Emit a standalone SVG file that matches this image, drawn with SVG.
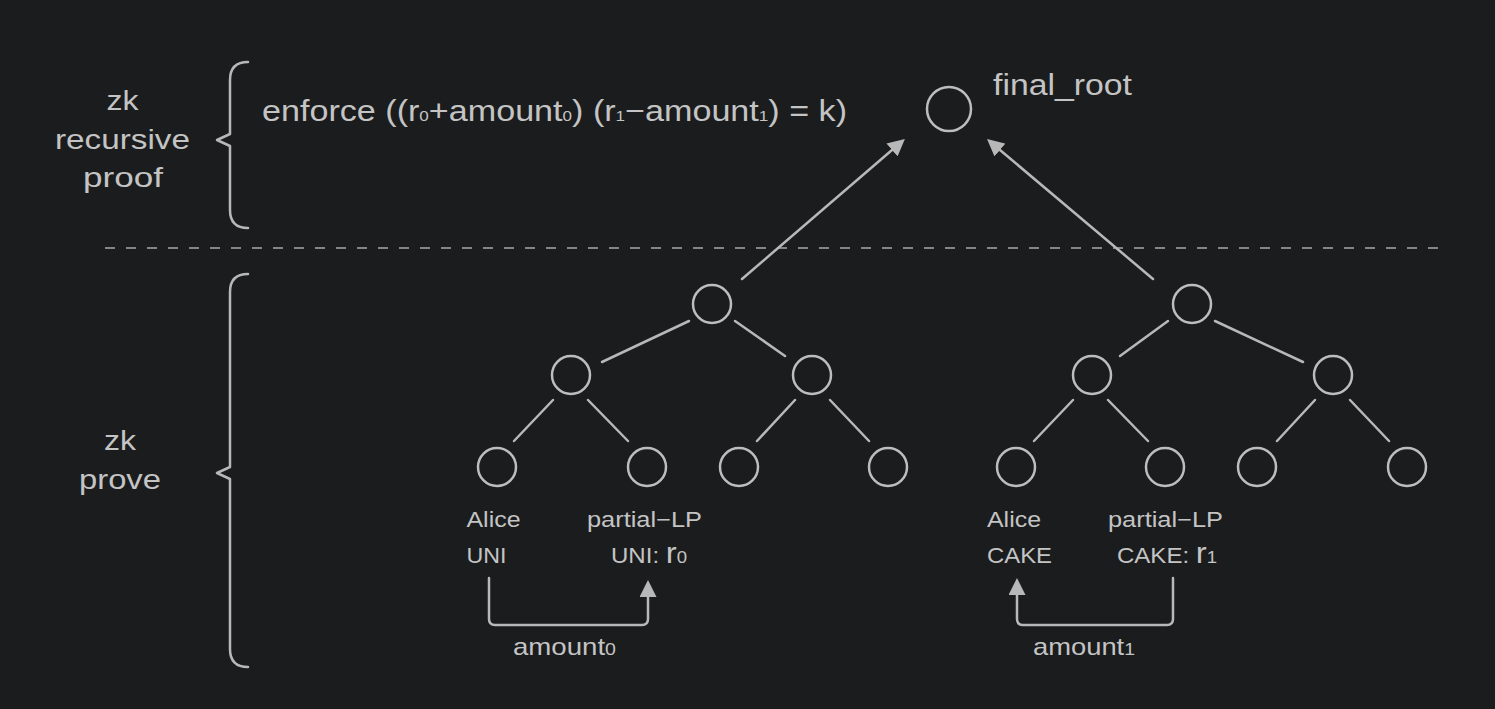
<svg xmlns="http://www.w3.org/2000/svg" width="1495" height="709" viewBox="0 0 1495 709">
<defs>
<style>
.bg{fill:#1b1c1e}
.ln{stroke:#b8b8b8;stroke-width:2.5;fill:none;stroke-linecap:round;stroke-linejoin:round}
.nd{stroke:#bdbdbd;stroke-width:2.5;fill:none}
.t{fill:#c4c4c4;font-family:"Liberation Sans","Noto Sans",Arial,sans-serif}
.big{font-size:28px}
.sm{font-size:22px}
.dash{stroke:#a8a8a8;stroke-width:1.5;stroke-dasharray:10 11;fill:none}
</style>
<marker id="ah" viewBox="0 0 17 17" refX="0" refY="8.5" markerWidth="17" markerHeight="17" markerUnits="userSpaceOnUse" orient="auto">
<path d="M0,0 L17,8.5 L0,17 z" fill="#b8b8b8"/>
</marker>
</defs>
<rect class="bg" x="0" y="0" width="1495" height="709"/>

<g id="section-labels">
<text class="t big" x="106.5" y="110" textLength="32" lengthAdjust="spacingAndGlyphs">zk</text>
<text class="t big" x="55" y="149" textLength="135" lengthAdjust="spacingAndGlyphs">recursive</text>
<text class="t big" x="83" y="187" textLength="80" lengthAdjust="spacingAndGlyphs">proof</text>
<text class="t big" x="104" y="450" textLength="32" lengthAdjust="spacingAndGlyphs">zk</text>
<text class="t big" x="79" y="489" textLength="82" lengthAdjust="spacingAndGlyphs">prove</text>
<path class="ln" d="M248,62 Q230,62 230,80 L230,134 L217,140 L230,146 L230,210 Q230,228 248,228"/>
<path class="ln" d="M248,274 Q230,274 230,292 L230,467 L217,473 L230,479 L230,649 Q230,667 248,667"/>
<line class="dash" x1="105" y1="248" x2="1442" y2="248"/>
</g>

<g id="formula">
<text class="t" font-size="30" x="262" y="121" textLength="585" lengthAdjust="spacingAndGlyphs">enforce ((r<tspan font-size="15">0</tspan>+amount<tspan font-size="15">0</tspan>) (r<tspan font-size="15">1</tspan>−amount<tspan font-size="15">1</tspan>) = k)</text>
</g>

<g id="final_root">
<circle class="nd" cx="949" cy="109" r="22"/>
<text class="t" font-size="30" x="993" y="95" textLength="139" lengthAdjust="spacingAndGlyphs">final_root</text>
</g>

<g id="L-root"><circle class="nd" cx="712" cy="304" r="19"/></g>
<g id="L-a"><circle class="nd" cx="571" cy="375" r="19"/></g>
<g id="L-b"><circle class="nd" cx="812" cy="375" r="19"/></g>
<g id="L-leaf1"><circle class="nd" cx="497" cy="467" r="19"/>
<text class="t sm" x="466.5" y="527" textLength="54" lengthAdjust="spacingAndGlyphs">Alice</text>
<text class="t sm" x="466.5" y="563" textLength="40" lengthAdjust="spacingAndGlyphs">UNI</text></g>
<g id="L-leaf2"><circle class="nd" cx="647" cy="467" r="19"/>
<text class="t sm" x="587" y="527" textLength="115" lengthAdjust="spacingAndGlyphs">partial−LP</text>
<text class="t sm" x="611" y="563" textLength="76" lengthAdjust="spacingAndGlyphs">UNI: <tspan font-size="30">r</tspan><tspan font-size="17">0</tspan></text></g>
<g id="L-leaf3"><circle class="nd" cx="739" cy="467" r="19"/></g>
<g id="L-leaf4"><circle class="nd" cx="888" cy="467" r="19"/></g>

<g id="R-root"><circle class="nd" cx="1192" cy="304" r="19"/></g>
<g id="R-a"><circle class="nd" cx="1092" cy="375" r="19"/></g>
<g id="R-b"><circle class="nd" cx="1333" cy="375" r="19"/></g>
<g id="R-leaf1"><circle class="nd" cx="1016" cy="467" r="19"/>
<text class="t sm" x="987" y="527" textLength="54" lengthAdjust="spacingAndGlyphs">Alice</text>
<text class="t sm" x="987" y="563" textLength="65" lengthAdjust="spacingAndGlyphs">CAKE</text></g>
<g id="R-leaf2"><circle class="nd" cx="1165" cy="467" r="19"/>
<text class="t sm" x="1108" y="527" textLength="115" lengthAdjust="spacingAndGlyphs">partial−LP</text>
<text class="t sm" x="1117" y="563" textLength="100" lengthAdjust="spacingAndGlyphs">CAKE: <tspan font-size="30">r</tspan><tspan font-size="17">1</tspan></text></g>
<g id="R-leaf3"><circle class="nd" cx="1257" cy="467" r="19"/></g>
<g id="R-leaf4"><circle class="nd" cx="1407" cy="467" r="19"/></g>

<g id="connectors">
<line class="ln" x1="742" y1="279" x2="892" y2="150" marker-end="url(#ah)"/>
<line class="ln" x1="1153" y1="279" x2="1000" y2="150" marker-end="url(#ah)"/>
<line class="ln" x1="689" y1="321" x2="602" y2="362"/>
<line class="ln" x1="735" y1="321" x2="785" y2="356"/>
<line class="ln" x1="553" y1="400" x2="514" y2="441"/>
<line class="ln" x1="588" y1="400" x2="628" y2="441"/>
<line class="ln" x1="795" y1="400" x2="757" y2="441"/>
<line class="ln" x1="830" y1="400" x2="869" y2="441"/>
<line class="ln" x1="1168" y1="321" x2="1120" y2="356"/>
<line class="ln" x1="1215" y1="321" x2="1303" y2="362"/>
<line class="ln" x1="1073" y1="400" x2="1034" y2="441"/>
<line class="ln" x1="1108" y1="400" x2="1148" y2="441"/>
<line class="ln" x1="1315" y1="400" x2="1277" y2="441"/>
<line class="ln" x1="1350" y1="400" x2="1389" y2="441"/>
<path class="ln" d="M489,578 L489,619 Q489,625 495,625 L642,625 Q648,625 648,619 L648,597" marker-end="url(#ah)"/>
<path class="ln" d="M1173,578 L1173,619 Q1173,625 1167,625 L1023,625 Q1017,625 1017,619 L1017,595" marker-end="url(#ah)"/>
<text class="t" font-size="24" x="513" y="655" textLength="103" lengthAdjust="spacingAndGlyphs">amount<tspan font-size="17">0</tspan></text>
<text class="t" font-size="24" x="1033" y="655" textLength="102" lengthAdjust="spacingAndGlyphs">amount<tspan font-size="17">1</tspan></text>
</g>
</svg>
